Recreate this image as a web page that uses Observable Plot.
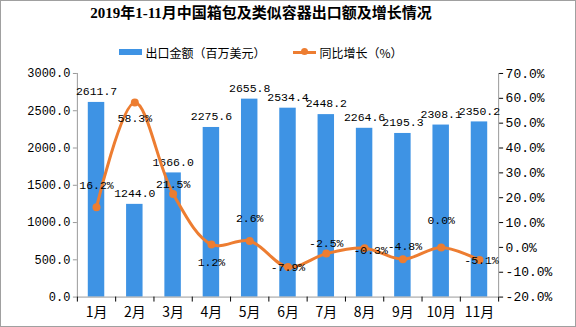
<!DOCTYPE html>
<html><head><meta charset="utf-8">
<script src="https://cdn.jsdelivr.net/npm/d3@7"></script>
<script src="https://cdn.jsdelivr.net/npm/@observablehq/plot@0.6"></script>
<style>
html,body{margin:0;padding:0;background:#fff;}
#wrap{position:relative;width:576px;height:327px;box-sizing:border-box;border:1px solid #a0a0a0;background:#fff;overflow:hidden;}
#title{height:40px;line-height:44px;text-align:center;padding-right:54px;font:bold 15px "Liberation Serif","Noto Sans CJK SC",serif;color:#000;}
#legend{height:22px;display:flex;justify-content:center;align-items:center;gap:28px;padding-right:54px;font:12px "Noto Sans CJK SC",sans-serif;color:#000;}
#legend span{display:flex;align-items:center;}
.sw{display:inline-block;width:23px;height:6px;background:#3E93E4;margin-right:3px;}
.ln{position:relative;display:inline-block;width:23px;height:3px;background:#ED7D31;margin-right:3px;}
.ln::after{content:"";position:absolute;left:8px;top:-2.5px;width:7px;height:7px;border-radius:50%;background:#ED7D31;}
#chart{position:absolute;left:-1px;top:61px;}
</style></head>
<body><div id="wrap"><div id="title">2019年1-11月中国箱包及类似容器出口额及增长情况</div>
<div id="legend"><span><i class="sw"></i>出口金额（百万美元）</span><span><i class="ln"></i>同比增长（%）</span></div>
<div id="chart"></div></div>
<script>
const months = ["1月","2月","3月","4月","5月","6月","7月","8月","9月","10月","11月"];
const exportValue = [2611.7,1244.0,1666.0,2275.6,2655.8,2534.4,2448.2,2264.6,2195.3,2308.1,2350.2];
const growth = [16.2,58.3,21.5,1.2,2.6,-7.9,-2.5,-0.3,-4.8,0.0,-5.1];
const leftTicks = [0,500,1000,1500,2000,2500,3000];
const rightTicks = [-20,-10,0,10,20,30,40,50,60,70];

// label placement tweaks (pixels), layout only
const growthLabelDy = [-22,16,-10,18,-23,0,-10,2,-13,-27,0];
const growthLabelDx = [0,0,0,0,0,0,0,6,2,0,2];

const data = months.map((m,i)=>({m, i:i+1, v:exportValue[i], g:growth[i], k:i}));
const gMin=-20,gMax=70,yMax=3000;
const g2y = g => (g-gMin)/(gMax-gMin)*yMax;
const blue="#3E93E4", orange="#ED7D31";
const mono='"Liberation Mono","DejaVu Sans Mono",monospace';

const plot = Plot.plot({
  width:576, height:266,
  marginTop:11, marginBottom:31, marginLeft:77, marginRight:77,
  x:{type:"linear", domain:[0.5,11.5], label:null},
  y:{domain:[0,yMax], label:null},
  style:{background:"transparent", color:"#000"},
  marks:[
    Plot.rectY(data,{x1:d=>d.i-0.215,x2:d=>d.i+0.215,y1:0,y2:"v",fill:blue}),
    Plot.ruleX([0.5],{stroke:"#999"}),
    Plot.ruleX([11.5],{stroke:"#999"}),
    Plot.ruleY([0],{stroke:"#999"}),
    Plot.axisY({ticks:leftTicks,label:null,tickFormat:d=>d.toFixed(1),tickSize:4,tickPadding:3,stroke:"#999",fontSize:12,fontFamily:mono,color:"#000"}),
    Plot.axisY({anchor:"right",label:null,ticks:rightTicks.map(g2y),tickFormat:y=>(y/yMax*(gMax-gMin)+gMin).toFixed(1)+"%",tickSize:4,tickPadding:3,fontSize:13,fontFamily:mono}),
    Plot.axisX({ticks:d3.range(0.5,12,1),label:null,tickFormat:()=>"",tickSize:5}),
    Plot.axisX({ticks:d3.range(1,12),label:null,tickFormat:d=>months[d-1],tickSize:0,tickPadding:10,fontSize:14,fontFamily:'"Noto Sans CJK SC",sans-serif'}),
    Plot.text(data,{x:"i",y:"v",text:d=>d.v.toFixed(1),dy:-11,fontSize:11.5,fontFamily:mono,fill:"#000"}),
    Plot.line(data,{x:"i",y:d=>g2y(d.g),stroke:orange,strokeWidth:3,curve:"catmull-rom"}),
    Plot.dot(data,{x:"i",y:d=>g2y(d.g),r:4,fill:orange}),
    Plot.text(data,{x:"i",y:d=>g2y(d.g),text:d=>d.g.toFixed(1)+"%",fontSize:11.5,fontFamily:mono,fill:"#000",
      render:(index,scales,values,dims,ctx,next)=>{const g=next(index,scales,values,dims,ctx);
        d3.select(g).selectAll("text").each(function(_,j){const k=index[j];const t=d3.select(this);
          t.attr("transform",`translate(${values.x[k]+growthLabelDx[k]},${values.y[k]+growthLabelDy[k]})`);});
        return g;}})
  ]
});
document.getElementById("chart").appendChild(plot);
</script></body></html>
